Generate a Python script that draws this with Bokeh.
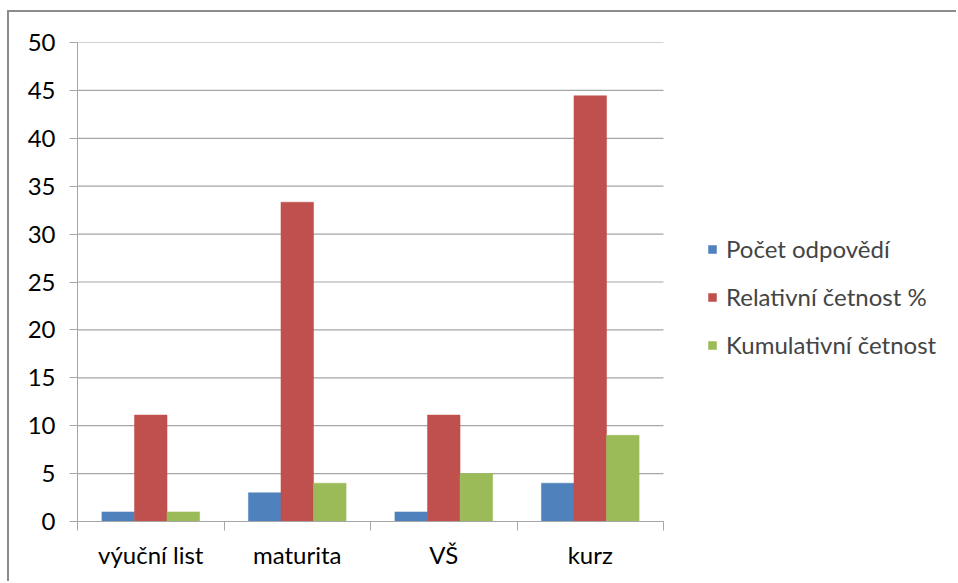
from bokeh.plotting import figure
from bokeh.models import FixedTicker, Legend, LegendItem, Range1d
from bokeh.embed import file_html
from bokeh.resources import INLINE

categories = ["výuční list", "maturita", "VŠ", "kurz"]
series_names = ["Počet odpovědí", "Relativní četnost %", "Kumulativní četnost"]
pocet = [1, 3, 1, 4]
relativni = [11.11, 33.33, 11.11, 44.44]
kumulativni = [1, 4, 5, 9]
y_ticks = [0, 5, 10, 15, 20, 25, 30, 35, 40, 45, 50]

colors = ["#4F81BD", "#C0504D", "#9BBB59"]
FONT = "Lato"
FS = "24px"
GRID = "#a6a6a6"

n = len(categories)
# the frame extends past the category area so that the legend can sit inside it
X_END = n * 878 / 586

p = figure(width=949, height=571, output_backend="svg", toolbar_location=None,
           x_range=Range1d(0, X_END), y_range=Range1d(0, 50),
           min_border_left=68, min_border_top=30, min_border_right=3, min_border_bottom=62)
p.styles = {"margin-left": "7px", "margin-top": "10px",
            "border-top": "2px solid #8c8c8c", "border-left": "2px solid #8c8c8c"}

# horizontal gridlines across the category area only
p.segment(x0=[0] * len(y_ticks), x1=[n] * len(y_ticks), y0=y_ticks, y1=y_ticks,
          line_color=GRID, line_width=1.2)

centers = [i + 0.5 for i in range(n)]
bw = 1 / 4.5
renderers = []
for k, (vals, col) in enumerate(zip([pocet, relativni, kumulativni], colors)):
    xs = [c + (k - 1) * bw for c in centers]
    r = p.vbar(x=xs, top=vals, width=bw, fill_color=col, line_color=col, line_width=0.5)
    renderers.append(r)

# x axis
p.xaxis.bounds = (0, n)
p.xaxis.ticker = FixedTicker(ticks=centers, minor_ticks=list(range(n + 1)))
p.xaxis.major_label_overrides = {c: lab for c, lab in zip(centers, categories)}
p.xaxis.major_tick_out = 0
p.xaxis.major_tick_in = 0
p.xaxis.minor_tick_out = 9
p.xaxis.minor_tick_in = 0
p.xaxis.minor_tick_line_color = GRID
p.xaxis.axis_line_color = GRID
p.xaxis.major_label_standoff = 9
p.xaxis.major_label_text_font = FONT
p.xaxis.major_label_text_font_size = FS
p.xaxis.major_label_text_color = "#000000"

# y axis
p.yaxis.ticker = FixedTicker(ticks=y_ticks)
p.yaxis.major_tick_out = 8
p.yaxis.major_tick_in = 0
p.yaxis.minor_tick_out = 0
p.yaxis.minor_tick_in = 0
p.yaxis.major_tick_line_color = GRID
p.yaxis.axis_line_color = GRID
p.yaxis.major_label_standoff = 14
p.yaxis.major_label_text_font = FONT
p.yaxis.major_label_text_font_size = FS
p.yaxis.major_label_text_color = "#000000"

p.xgrid.grid_line_color = None
p.ygrid.grid_line_color = None
p.outline_line_color = None

legend = Legend(items=[LegendItem(label=s, renderers=[r]) for s, r in zip(series_names, renderers)],
                location=(630, 162), orientation="vertical")
legend.glyph_width = 10
legend.glyph_height = 10
legend.label_text_font = FONT
legend.label_text_font_size = FS
legend.spacing = 19
legend.margin = 0
legend.padding = 10
legend.border_line_color = None
legend.background_fill_alpha = 0
legend.label_standoff = 9
p.add_layout(legend, "center")

open("out.html", "w").write(file_html(p, INLINE))
